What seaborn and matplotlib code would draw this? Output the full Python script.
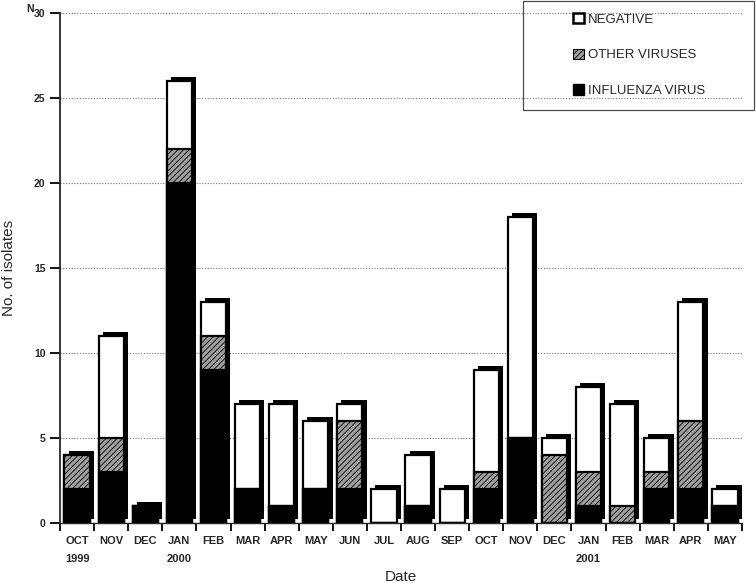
import numpy as np
import pandas as pd
import seaborn as sns
import matplotlib.pyplot as plt
import matplotlib.patheffects as pe
from matplotlib.patches import Patch, Rectangle
from matplotlib.ticker import FixedLocator

# data
months = ["OCT", "NOV", "DEC", "JAN", "FEB", "MAR", "APR", "MAY", "JUN", "JUL",
          "AUG", "SEP", "OCT", "NOV", "DEC", "JAN", "FEB", "MAR", "APR", "MAY"]
years = ["1999", "", "", "2000", "", "", "", "", "", "",
         "", "", "", "", "", "2001", "", "", "", ""]
influenza = [2, 3, 1, 20, 9, 2, 1, 2, 2, 0, 1, 0, 2, 5, 0, 1, 0, 2, 2, 1]
other_viruses = [2, 2, 0, 2, 2, 0, 0, 0, 4, 0, 0, 0, 1, 0, 4, 2, 1, 1, 4, 0]
negative = [0, 6, 0, 4, 2, 5, 6, 4, 1, 2, 3, 2, 6, 13, 1, 5, 6, 2, 7, 1]

df = pd.DataFrame({
    "period": [f"{m}-{i}" for i, m in enumerate(months)],
    "flu": influenza,
    "other": other_viruses,
    "neg": negative,
})
df["flu_other"] = df["flu"] + df["other"]
df["total"] = df["flu_other"] + df["neg"]

sns.set_style("ticks")
plt.rcParams["font.family"] = ["Liberation Sans", "DejaVu Sans"]
plt.rcParams["hatch.linewidth"] = 0.6

fig = plt.figure(figsize=(7.56, 5.83), dpi=100)
ax = fig.add_axes([60 / 756, 60 / 583, 682 / 756, 510 / 583])

bar_kw = dict(width=0.74, edgecolor="black", linewidth=1.6, saturation=1, ax=ax)

# stacked bars: draw the totals first, then the lower segments over them
sns.barplot(data=df, x="period", y="total", color="white", **bar_kw)
for bar in ax.containers[0]:
    bar.set_path_effects([pe.SimplePatchShadow(offset=(3, 3), shadow_rgbFace="black", alpha=1),
                          pe.Normal()])
sns.barplot(data=df, x="period", y="flu_other", color="#a0a0a0", hatch="//////", **bar_kw)
sns.barplot(data=df, x="period", y="flu", color="black", **bar_kw)

ax.set_xlim(-0.5, len(months) - 0.5)
ax.set_ylim(0, 30)
ax.set_yticks(range(0, 31, 5))
ax.set_axisbelow(True)
ax.yaxis.grid(True, linestyle=(0, (1, 1.5)), color="0.45", linewidth=0.8)
for line in ax.get_ygridlines()[:1]:
    line.set_visible(False)

# month labels centred on bars, year labels under them, ticks between bars
ax.set_xticks(range(len(months)))
ax.set_xticklabels([f"{m}\n{y}" for m, y in zip(months, years)],
                   fontsize=8, fontweight="bold", linespacing=2.0)
ax.xaxis.set_minor_locator(FixedLocator(np.arange(-0.5, len(months), 1)))
ax.tick_params(axis="x", which="major", length=0, pad=9)
ax.tick_params(axis="x", which="minor", length=6, width=1.3, color="black")
ax.tick_params(axis="y", length=7, width=1.3, labelsize=7.5, color="black")
for lbl in ax.get_yticklabels():
    lbl.set_fontweight("bold")

sns.despine(ax=ax)
ax.spines["left"].set_linewidth(1.3)
ax.spines["bottom"].set_linewidth(1.0)

ax.set_xlabel("Date", fontsize=11)
ax.xaxis.set_label_coords(0.5, -0.092)
ax.set_ylabel("No. of isolates", fontsize=11)
ax.yaxis.set_label_coords(-0.064, 0.5)

ax.annotate("N", xy=(0, 30), xycoords=("axes fraction", "data"), xytext=(-24, 1),
            textcoords="offset points", fontsize=7.5, fontweight="bold", annotation_clip=False)

handles = [Patch(facecolor="white", edgecolor="black", linewidth=1.8),
           Patch(facecolor="#a0a0a0", edgecolor="black", hatch="//////", linewidth=0.8),
           Patch(facecolor="black", edgecolor="black")]
fig.legend(handles, ["NEGATIVE", "OTHER VIRUSES", "INFLUENZA VIRUS"],
           loc="center", bbox_to_anchor=(639 / 756, 1 - 55 / 583),
           frameon=False, fontsize=9.5, handlelength=0.8, handleheight=0.8,
           handletextpad=0.3, labelspacing=1.75)
fig.patches.append(Rectangle((523 / 756, 1 - 110 / 583), 231 / 756, 109 / 583,
                             transform=fig.transFigure, fill=False,
                             edgecolor="0.3", linewidth=0.9))

fig.savefig("out.png", dpi=100)
